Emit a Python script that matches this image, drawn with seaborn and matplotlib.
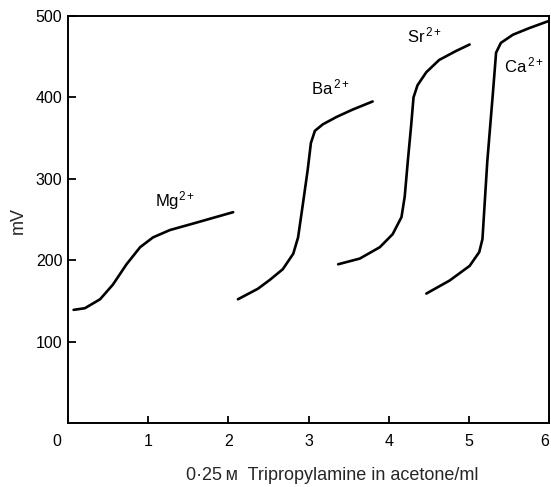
import matplotlib
matplotlib.use("Agg")
import matplotlib.pyplot as plt
import matplotlib.transforms as mtransforms
import pandas as pd
import seaborn as sns

# Potentiometric titration curves of alkaline-earth ions
mg_x = [0.07, 0.21, 0.40, 0.56, 0.73, 0.90, 1.06, 1.27, 1.56, 1.81, 2.06]
mg_mv = [139, 141, 152, 170, 195, 216, 228, 237, 245, 252, 259]

ba_x = [2.12, 2.37, 2.52, 2.68, 2.81, 2.87, 2.93, 2.99, 3.03, 3.08, 3.18, 3.35, 3.55, 3.80]
ba_mv = [152, 165, 176, 189, 208, 228, 269, 311, 344, 359, 367, 376, 385, 395]

sr_x = [3.37, 3.64, 3.89, 4.05, 4.16, 4.20, 4.24, 4.28, 4.31, 4.36, 4.47, 4.63, 4.84, 5.01]
sr_mv = [195, 202, 216, 232, 253, 278, 323, 365, 400, 415, 431, 446, 457, 465]

ca_x = [4.47, 4.76, 5.01, 5.13, 5.17, 5.23, 5.30, 5.34, 5.40, 5.55, 5.75, 6.00]
ca_mv = [159, 175, 193, 210, 226, 321, 405, 455, 467, 477, 485, 494]

ions = ["Mg", "Ba", "Sr", "Ca"]
ion_labels = [r"Mg$^{2+}$", r"Ba$^{\,2+}$", r"Sr$^{\,2+}$", r"Ca$^{\,2+}$"]
label_x = [1.08, 3.03, 4.23, 5.44]
label_mv = [266, 404, 468, 431]

x_ticks = [0, 1, 2, 3, 4, 5, 6]
y_ticks = [100, 200, 300, 400, 500]

frames = []
for ion, xs, ys in zip(ions, [mg_x, ba_x, sr_x, ca_x], [mg_mv, ba_mv, sr_mv, ca_mv]):
    frames.append(pd.DataFrame({"vol": xs, "mV": ys, "ion": ion}))
data = pd.concat(frames, ignore_index=True)

sns.set_theme(style="ticks")
plt.rcParams["font.family"] = ["Liberation Sans", "DejaVu Sans"]
plt.rcParams["mathtext.fontset"] = "custom"
plt.rcParams["mathtext.rm"] = "Liberation Sans"
plt.rcParams["mathtext.it"] = "Liberation Sans"
plt.rcParams["mathtext.bf"] = "Liberation Sans:bold"

fig = plt.figure(figsize=(5.51, 4.87), dpi=100)
ax = fig.add_axes([68 / 551, 1 - 423 / 487, (549 - 68) / 551, (423 - 16) / 487])

for ion in ions:
    sns.lineplot(data=data[data["ion"] == ion], x="vol", y="mV", ax=ax,
                 color="black", linewidth=1.9, estimator=None, sort=False)

for text, lx, ly in zip(ion_labels, label_x, label_mv):
    ax.text(lx, ly, text, fontsize=12, color="black", ha="left", va="baseline")

ax.set_xlim(0, 6)
ax.set_ylim(0, 500)
ax.set_xticks(x_ticks)
ax.set_xticklabels([str(t) for t in x_ticks])
ax.set_yticks(y_ticks)
ax.set_yticklabels([str(t) for t in y_ticks])
ax.tick_params(axis="x", direction="in", length=5, width=1.3, pad=8,
               labelsize=11.5, colors="black")
ax.tick_params(axis="y", direction="in", length=6, width=1.3, pad=4,
               labelsize=11.5, colors="black")

# origin label sits left of the corner; the last label is pulled inside the edge
labels = ax.get_xticklabels()
for lbl, dx in ((labels[0], -11), (labels[-1], -4)):
    lbl.set_transform(lbl.get_transform() +
                      mtransforms.ScaledTranslation(dx / 100, 0, fig.dpi_scale_trans))

for side in ["left", "right", "top", "bottom"]:
    ax.spines[side].set_visible(True)
    ax.spines[side].set_linewidth(1.4)
    ax.spines[side].set_color("black")

ax.set_xlabel("")
ax.set_ylabel("")
fig.text(18 / 551, 1 - 220 / 487, "mV", rotation=90, fontsize=13,
         ha="center", va="center")
fig.text(332 / 551, 1 - 476 / 487, "0·25\u2009ᴍ  Tripropylamine in acetone/ml",
         fontsize=13, ha="center", va="center")

fig.savefig("out.png", dpi=100)
